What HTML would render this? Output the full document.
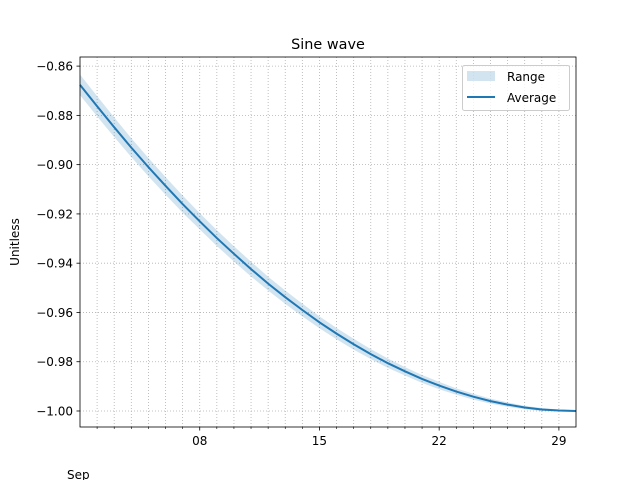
<!DOCTYPE html>
<html><head><meta charset="utf-8"><style>
body{margin:0;background:#fff;}
svg text{font-family:"DejaVu Sans","Liberation Sans",sans-serif;fill:#000;}
</style></head><body>
<svg id="chart" width="640" height="480" viewBox="0 0 640 480">
<rect width="640" height="480" fill="#fff"/>
<g id="grid"></g>
<g id="band"></g>
<g id="line"></g>
<g id="axes"></g>
<text x="328" y="49" font-size="14.4" text-anchor="middle">Sine wave</text>
<text transform="translate(19,242) rotate(-90)" font-size="12" text-anchor="middle">Unitless</text>
<text x="67" y="479" font-size="12">Sep</text>
<g>
<rect x="462.5" y="65.5" width="107" height="45" rx="2" fill="#fff" fill-opacity="0.8" stroke="#ccc"/>
<rect x="467" y="71" width="28" height="10" fill="#1f77b4" fill-opacity="0.2"/>
<text x="507" y="81" font-size="12">Range</text>
<line x1="467" y1="97" x2="495" y2="97" stroke="#1f77b4" stroke-width="2"/>
<text x="507" y="102" font-size="12">Average</text>
</g>
</svg>
<script>
const days=[0,1,2,3,4,5,6,7,8,9,10,11,12,13,14,15,16,17,18,19,20,21,22,23,24,25,26,27,28,29];
const average=[-0.8676,-0.8763,-0.8848,-0.8931,-0.9010,-0.9086,-0.9160,-0.9230,-0.9298,-0.9362,-0.9424,-0.9483,-0.9538,-0.9590,-0.9640,-0.9686,-0.9729,-0.9769,-0.9806,-0.9839,-0.9870,-0.9897,-0.9921,-0.9942,-0.9960,-0.9974,-0.9986,-0.9994,-0.9998,-1.0000];
const halfRange=[0.0042,0.0041,0.0040,0.0038,0.0037,0.0036,0.0035,0.0033,0.0032,0.0031,0.0030,0.0028,0.0027,0.0026,0.0024,0.0023,0.0022,0.0020,0.0019,0.0017,0.0016,0.0015,0.0013,0.0012,0.0010,0.0009,0.0007,0.0006,0.0004,0.0003];
const yTicks=[-0.86,-0.88,-0.90,-0.92,-0.94,-0.96,-0.98,-1.00];
const yTickLabels=["−0.86","−0.88","−0.90","−0.92","−0.94","−0.96","−0.98","−1.00"];
const xMajorDays=[7,14,21,28];
const xMajorLabels=["08","15","22","29"];
const L=80,R=576,T=57,B=427;
const xMin=0,xMax=29,yMin=-1.0065,yMax=-0.8563;
const xs=d=>L+(d-xMin)/(xMax-xMin)*(R-L);
const ys=v=>B-(v-yMin)/(yMax-yMin)*(B-T);
const NS="http://www.w3.org/2000/svg";
function mk(tag,attrs,parent){const e=document.createElementNS(NS,tag);for(const k in attrs)e.setAttribute(k,attrs[k]);parent.appendChild(e);return e;}
const grid=document.getElementById('grid'),axes=document.getElementById('axes');
for(let d=xMin+1;d<xMax;d++){
 const g=mk('line',{x1:xs(d),x2:xs(d),y1:T,y2:B,stroke:'#b0b0b0','stroke-width':0.8,'stroke-dasharray':'1,2'},grid);
 
 
 const major=xMajorDays.includes(d);
 const t=mk('line',{x1:xs(d),x2:xs(d),y1:B,y2:B+(major?3.5:2),stroke:'#000','stroke-width':major?0.8:0.6},axes);
 
 
}
xMajorDays.forEach((d,i)=>{
 const t=mk('text',{x:xs(d),y:B+18,'font-size':12,'text-anchor':'middle'},axes);
 t.textContent=xMajorLabels[i];
 
 
});
yTicks.forEach((v,i)=>{
 const g=mk('line',{x1:L,x2:R,y1:ys(v),y2:ys(v),stroke:'#b0b0b0','stroke-width':0.8,'stroke-dasharray':'1,2'},grid);
 
 
 const t=mk('line',{x1:L-3.5,x2:L,y1:ys(v),y2:ys(v),stroke:'#000','stroke-width':0.8},axes);
 
 
 const tx=mk('text',{x:L-7,y:ys(v)+4.5,'font-size':12,'text-anchor':'end'},axes);
 tx.textContent=yTickLabels[i];
 
 
});
let up=days.map((d,i)=>xs(d)+','+ys(average[i]+halfRange[i]));
let lo=days.map((d,i)=>xs(d)+','+ys(average[i]-halfRange[i])).reverse();
const band=mk('polygon',{points:up.concat(lo).join(' '),fill:'#1f77b4','fill-opacity':0.2},document.getElementById('band'));


const ln=mk('polyline',{points:days.map((d,i)=>xs(d)+','+ys(average[i])).join(' '),fill:'none',stroke:'#1f77b4','stroke-width':2},document.getElementById('line'));


const fr=mk('rect',{x:L,y:T,width:R-L,height:B-T,fill:'none',stroke:'#000','stroke-width':0.8},axes);


</script>
</body></html>
